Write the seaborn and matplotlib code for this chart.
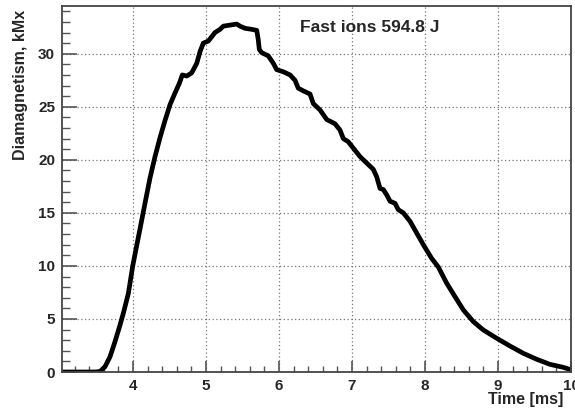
import matplotlib
matplotlib.use("Agg")
import matplotlib.pyplot as plt
from matplotlib.ticker import MultipleLocator
import pandas as pd
import seaborn as sns

# Diamagnetic signal of the plasma, time in ms, flux in kMx
time_ms = [3.027, 3.479, 3.548, 3.616, 3.685, 3.753, 3.822, 3.867, 3.936, 3.996,
           4.050, 4.096, 4.164, 4.233, 4.301, 4.370, 4.438, 4.507, 4.575, 4.634,
           4.675, 4.736, 4.804, 4.873, 4.918, 4.963, 5.032, 5.078, 5.123, 5.192,
           5.237, 5.329, 5.421, 5.466, 5.534, 5.626, 5.695, 5.716, 5.730, 5.763,
           5.853, 5.922, 5.968, 6.059, 6.151, 6.219, 6.264, 6.333, 6.425, 6.470,
           6.562, 6.653, 6.767, 6.836, 6.881, 6.949, 7.018, 7.110, 7.201, 7.292,
           7.338, 7.384, 7.429, 7.475, 7.521, 7.589, 7.634, 7.703, 7.795, 7.886,
           7.977, 8.092, 8.182, 8.297, 8.411, 8.525, 8.662, 8.799, 8.982, 9.164,
           9.347, 9.530, 9.712, 9.895, 10.0]
diamag_kmx = [0.0, 0.0, 0.05, 0.5, 1.44, 2.86, 4.43, 5.53, 7.4, 10.0,
              11.9, 13.5, 15.9, 18.3, 20.3, 22.1, 23.7, 25.2, 26.3, 27.2,
              28.0, 27.9, 28.2, 29.1, 30.2, 31.0, 31.2, 31.6, 32.0, 32.3,
              32.6, 32.7, 32.8, 32.6, 32.4, 32.3, 32.2, 31.3, 30.4, 30.1,
              29.8, 29.1, 28.5, 28.3, 28.0, 27.5, 26.75, 26.5, 26.2, 25.3,
              24.7, 23.8, 23.4, 22.8, 22.0, 21.7, 21.1, 20.3, 19.7, 19.1,
              18.4, 17.3, 17.2, 16.7, 16.1, 15.9, 15.3, 15.0, 14.2, 13.1,
              12.0, 10.7, 9.9, 8.37, 7.1, 5.85, 4.75, 3.96, 3.18, 2.45,
              1.76, 1.2, 0.72, 0.44, 0.2]

annotation = "Fast ions 594.8 J"
x_title = "Time [ms]"
y_title = "Diamagnetism, kMx"

df = pd.DataFrame({"t": time_ms, "dm": diamag_kmx})

sns.set_style("white")
plt.rcParams["font.family"] = ["Liberation Sans", "DejaVu Sans"]
plt.rcParams["font.weight"] = "bold"

W, H = 575, 412
fig = plt.figure(figsize=(W / 100, H / 100), dpi=100)
ax = fig.add_axes([62 / W, 1 - 372 / H, (571 - 62) / W, (372 - 6) / H])

sns.lineplot(data=df, x="t", y="dm", ax=ax, color="black", linewidth=3.4,
             estimator=None, sort=True)

ax.set_xlim(3.027, 10.0)
ax.set_ylim(0, 34.5)

ax.xaxis.set_major_locator(MultipleLocator(1))
ax.xaxis.set_minor_locator(MultipleLocator(0.2))
ax.yaxis.set_major_locator(MultipleLocator(5))
ax.yaxis.set_minor_locator(MultipleLocator(1))

ax.grid(True, which="major", color="#777777", linestyle=(0, (1, 2)), linewidth=0.9)

ax.tick_params(axis="x", which="major", direction="in", length=8, width=1.2,
               color="#555555", labelsize=11, pad=5, bottom=True, top=False)
ax.tick_params(axis="x", which="minor", direction="in", length=4, width=1.0,
               color="#555555", bottom=True, top=False)
ax.tick_params(axis="y", which="major", direction="in", length=11, width=1.2,
               color="#555555", labelsize=11, pad=5, left=True, right=False)
ax.tick_params(axis="y", which="minor", direction="in", length=5.5, width=1.0,
               color="#555555", left=True, right=False)
for lbl in ax.get_xticklabels() + ax.get_yticklabels():
    lbl.set_fontweight("bold")

for side, sp in ax.spines.items():
    sp.set_visible(True)
    sp.set_color("#444444")
    sp.set_linewidth(1.3)

ax.set_xlabel(x_title, fontsize=11.5, fontweight="bold", loc="right")
ax.xaxis.set_label_coords((563 - 62) / 509, -0.056)
ax.set_ylabel(y_title, fontsize=11.5, fontweight="bold", loc="top")
ax.yaxis.set_label_coords(-0.066, 0.99)

ax.text((300 - 62) / 509, (372 - 28) / 366, annotation, transform=ax.transAxes,
        fontsize=12.5, fontweight="bold", ha="left", va="center")

fig.savefig("out.png", dpi=100)
